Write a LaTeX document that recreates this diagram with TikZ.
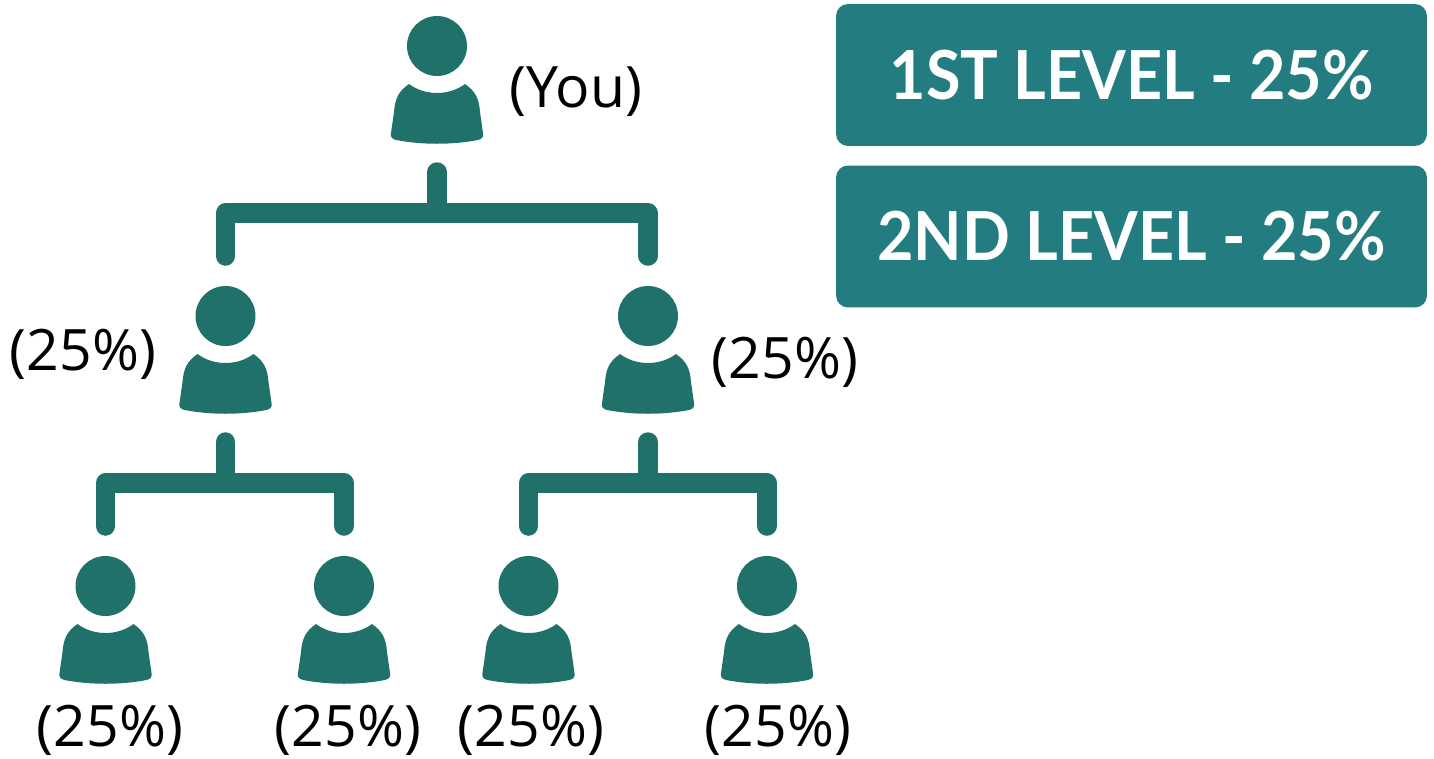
\documentclass[tikz,border=0pt]{standalone}
\usepackage{fontspec}
\setmainfont{Open Sans}
\newfontfamily\boxfont[FakeStretch=.93]{Lato}
\definecolor{icongreen}{HTML}{21716B}
\definecolor{boxteal}{HTML}{237C80}
\tikzset{
 link/.style={draw=icongreen,line width=.39cm,line cap=round,line join=round},
 tag/.style={font=\fontsize{32.5}{36}\selectfont,text=black,inner sep=0pt},
 levelbox/.style={rectangle,fill=boxteal,rounded corners=.24cm,minimum width=11.82cm,minimum height=2.84cm,inner sep=0pt,text=white,font=\boxfont\bfseries\fontsize{38.5}{42}\selectfont},
 person/.pic={
  \fill[icongreen] (0,0) circle (.6cm);
  \fill[icongreen] (-28,38) .. controls (-12,50) and (12,50) .. (28,38)
   .. controls (38,45) and (42,52) .. (43,66) -- (46,87)
   .. controls (47,92) and (44,93) .. (41,94)
   .. controls (15,99) and (-15,99) .. (-41,94)
   .. controls (-44,93) and (-47,92) .. (-46,87) -- (-43,66)
   .. controls (-42,52) and (-38,45) .. (-28,38) -- cycle;
  \coordinate (-foot) at (0,126);
  \coordinate (-top) at (0,-60);
 }
}
\begin{document}
\begin{tikzpicture}[x=.02cm,y=-.02cm]
 \useasboundingbox (0,0) rectangle (1434,758);
 % people
 \pic (you) at (437,46) {person};
 \pic (left) at (225.5,316) {person};
 \pic (right) at (648,316) {person};
 \pic (leftA) at (105.5,586) {person};
 \pic (leftB) at (344,586) {person};
 \pic (rightA) at (528.5,586) {person};
 \pic (rightB) at (767,586) {person};
 % labels
 \node [tag] (youtag) at (576,92) {(You)};
 \node [tag] (lefttag) at (83,354) {(25\%)};
 \node [tag] (righttag) at (785,362) {(25\%)};
 \node [tag] (leftAtag) at (110,730) {(25\%)};
 \node [tag] (leftBtag) at (348,730) {(25\%)};
 \node [tag] (rightAtag) at (531,730) {(25\%)};
 \node [tag] (rightBtag) at (778,730) {(25\%)};
 % connectors
 \coordinate (youbar) at (437,213);
 \coordinate (leftbar) at (225.5,483);
 \coordinate (rightbar) at (648,483);
 \draw [link] (you-foot) -- (youbar);
 \draw [link] (left-top) |- (youbar) -| (right-top);
 \draw [link] (left-foot) -- (leftbar);
 \draw [link] (leftA-top) |- (leftbar) -| (leftB-top);
 \draw [link] (right-foot) -- (rightbar);
 \draw [link] (rightA-top) |- (rightbar) -| (rightB-top);
 % level boxes
 \node [levelbox] (firstlevel) at (1131.5,75) {1ST LEVEL - 25\%};
 \node [levelbox] (secondlevel) at (1131.5,236.5) {2ND LEVEL - 25\%};
\end{tikzpicture}
\end{document}
